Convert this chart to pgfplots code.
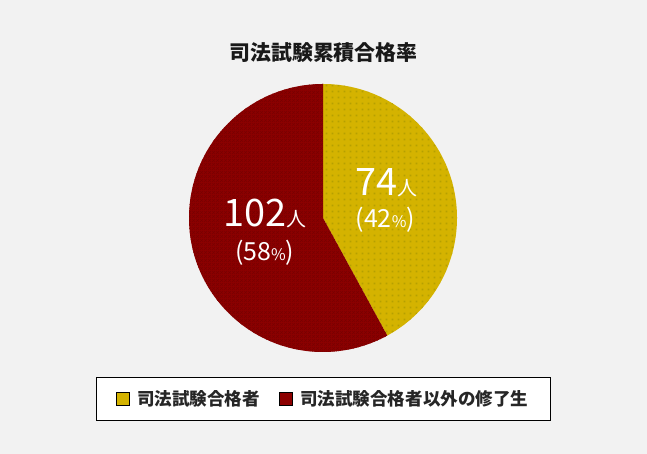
\documentclass[border=0pt]{standalone}
\usepackage{pgfplots}
\pgfplotsset{compat=1.18}
\usepackage{pgfplotstable}
\usepackage{fontspec}
\setmainfont{Noto Sans CJK JP}
\usetikzlibrary{patterns.meta}

\definecolor{bg}{HTML}{F2F2F2}
\definecolor{gold}{HTML}{D4B300}
\definecolor{golddot}{HTML}{B5A000}
\definecolor{maroon}{HTML}{8C0000}
\definecolor{maroonline}{HTML}{780000}

\tikzdeclarepattern{
  name=piedots,
  type=uncolored,
  bounding box={(0,0) and (6bp,6bp)},
  tile size={(6bp,6bp)},
  code={\pgfpathrectangle{\pgfpoint{2bp}{2bp}}{\pgfpoint{2bp}{2bp}}\pgfusepath{fill}}
}
\tikzdeclarepattern{
  name=piehatch,
  type=uncolored,
  bounding box={(0,0) and (4bp,4bp)},
  tile size={(4bp,4bp)},
  code={
    \pgfsetlinewidth{0.5bp}
    \pgfpathmoveto{\pgfpoint{0bp}{0bp}}\pgfpathlineto{\pgfpoint{4bp}{4bp}}
    \pgfpathmoveto{\pgfpoint{0bp}{4bp}}\pgfpathlineto{\pgfpoint{4bp}{0bp}}
    \pgfusepath{stroke}}
}

% number of people per group
\pgfplotstableread{
value
74
102
}\piedata

\begin{document}
\begin{tikzpicture}[x=1bp,y=1bp]
\fill[bg] (0,0) rectangle (647,454);
\node[font=\bfseries\fontsize{21}{21}\selectfont, text=black!90] at (323.5,401) {司法試験累積合格率};

\pgfplotstablegetelem{0}{value}\of\piedata \let\va\pgfplotsretval
\pgfplotstablegetelem{1}{value}\of\piedata \let\vb\pgfplotsretval
\pgfmathsetmacro\angA{\va/(\va+\vb)*360}
\pgfmathsetmacro\endA{90-\angA}

\begin{axis}[
    at={(189bp,102bp)}, anchor=south west,
    width=268bp, height=268bp, scale only axis,
    hide axis, clip=false,
    xmin=-1, xmax=1, ymin=-1, ymax=1,
    legend columns=2,
    legend style={at={(0.5,-0.1735)}, anchor=center, draw=black, fill=white,
        font=\bfseries\fontsize{17.6}{17.6}\selectfont, text=black!85,
        inner xsep=20bp, inner ysep=11bp,
        /tikz/every even column/.append style={column sep=17bp}},
    legend image code/.code={\fill[#1] (0bp,-6.5bp) rectangle (13bp,6.5bp); \path (19bp,0bp);},
  ]
  \fill[gold, postaction={pattern={piedots}, pattern color=golddot}]
    (axis cs:0,0) -- (axis cs:0,1) arc[start angle=90, end angle=\endA, radius=134bp] -- cycle;
  \fill[maroon, postaction={pattern={piehatch}, pattern color=maroonline}]
    (axis cs:0,0) -- (axis cs:0,1) arc[start angle=90, end angle=\endA+360, radius=134bp] -- cycle;

  \node[text=white, anchor=base] at (axis cs:0.47,0.165)
    {{\fontsize{38}{38}\selectfont 74}{\fontsize{20}{20}\selectfont 人}};
  \node[text=white, anchor=base] at (axis cs:0.465,-0.07)
    {{\fontsize{25}{25}\selectfont (42}{\fontsize{16}{16}\selectfont \%}{\fontsize{25}{25}\selectfont )}};
  \node[text=white, anchor=base] at (axis cs:-0.43,-0.06)
    {{\fontsize{38}{38}\selectfont 102}{\fontsize{20}{20}\selectfont 人}};
  \node[text=white, anchor=base] at (axis cs:-0.435,-0.32)
    {{\fontsize{25}{25}\selectfont (58}{\fontsize{16}{16}\selectfont \%}{\fontsize{25}{25}\selectfont )}};

  \addlegendimage{fill=gold}
  \addlegendentry{司法試験合格者}
  \addlegendimage{fill=maroon}
  \addlegendentry{司法試験合格者以外の修了生}
\end{axis}
\end{tikzpicture}
\end{document}
